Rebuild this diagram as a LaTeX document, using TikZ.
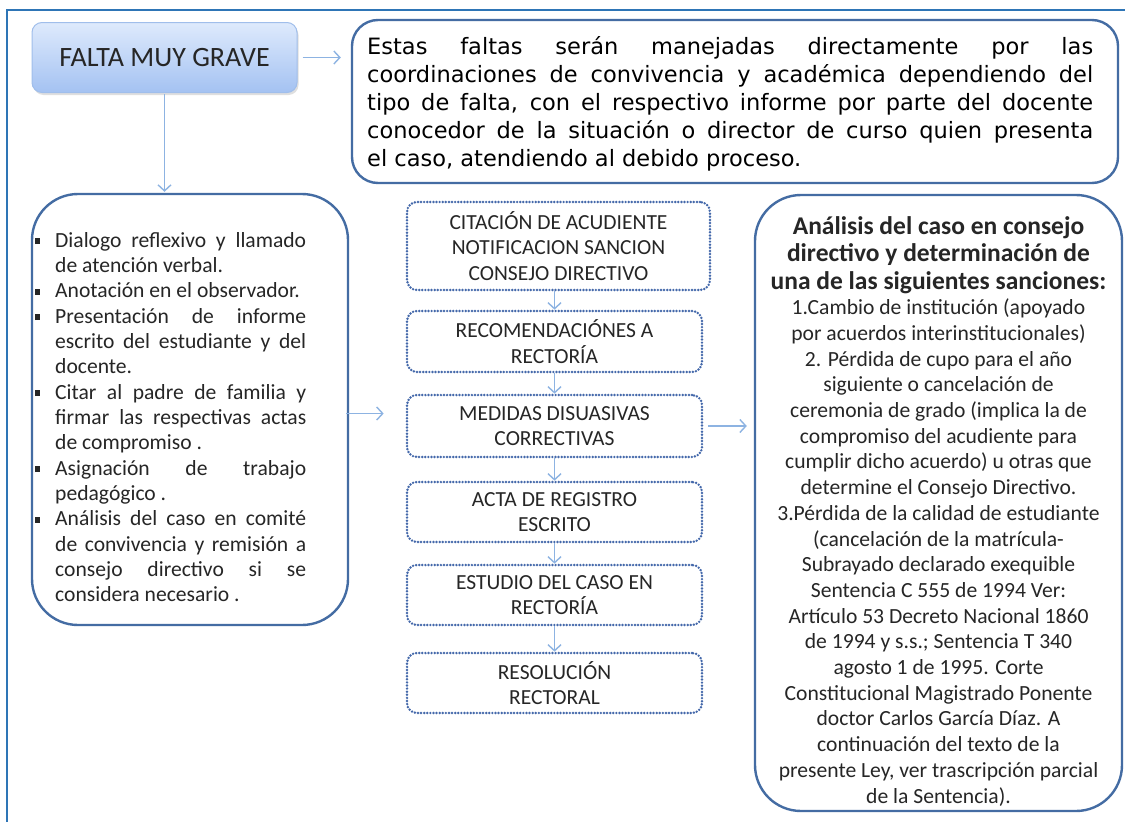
\documentclass[tikz,border=0pt]{standalone}
\usepackage{fontspec}
\setmainfont{Carlito}
\newfontfamily\comic{DejaVu Sans}
\usetikzlibrary{shadows,arrows.meta,calc}
\definecolor{frameblue}{RGB}{46,117,182}
\definecolor{boxblue}{RGB}{68,108,163}
\definecolor{dotblue}{RGB}{68,104,170}
\definecolor{arrblue}{RGB}{141,179,226}
\definecolor{txt}{RGB}{38,38,38}
\definecolor{fmgtop}{RGB}{222,234,252}
\definecolor{fmgbot}{RGB}{164,194,242}
\definecolor{fmgline}{RGB}{160,190,235}
\hbadness=10000 \vbadness=10000 \hfuzz=8pt
\newcommand\litem[1]{\par\noindent\hangindent=20pt\hangafter=1\makebox[20pt][l]{\raisebox{3pt}{\rule{5pt}{6pt}}}#1}
\begin{document}
\begin{tikzpicture}[x=1pt,y=-1pt,
  bigbox/.style={draw=boxblue, line width=2.4pt, fill=white, inner sep=0pt},
  stepbox/.style={draw=dotblue, line width=2.7pt, line cap=round, dash pattern=on 0pt off 3.1pt,
     rounded corners=10pt, align=center, inner sep=0pt, text=txt,
     font=\fontsize{21.5}{25.5}\selectfont},
  arr/.style={draw=arrblue, line width=1.4pt, -{Straight Barb[length=6pt,width=13pt]}},
  textnode/.style={inner sep=0pt, text=txt}]
\useasboundingbox (0,0) rectangle (1125,822);
\fill[white] (0,0) rectangle (1125,822);
% outer frame
\coordinate (fbl) at (7,822);
\coordinate (ftl) at (7,10);
\coordinate (ftr) at (1125,10);
\draw[frameblue, line width=2.6pt] (fbl) -- (ftl) -- (ftr);

% FALTA MUY GRAVE
\node[draw=fmgline, line width=1pt, rounded corners=10pt, top color=fmgtop, bottom color=fmgbot,
  minimum width=265pt, minimum height=70pt, inner sep=0pt, text=txt,
  drop shadow={shadow xshift=1.5pt, shadow yshift=-2.5pt, opacity=0.25},
  font=\fontsize{28}{32}\selectfont] (fmg) at (164.5,57.5) {FALTA MUY GRAVE};

% top description box
\node[bigbox, rounded corners=26pt, minimum width=766pt, minimum height=163pt] (top) at (735,101.5) {};
\node[textnode, anchor=base west, text=black] (toptext) at (367,54)
 {\parbox[t]{726pt}{\comic\fontsize{22.5}{28.2}\selectfont
 Estas faltas serán manejadas directamente por las\linebreak
 coordinaciones de convivencia y académica dependiendo del\linebreak
 tipo de falta, con el respectivo informe por parte del docente\linebreak
 conocedor de la situación o director de curso quien presenta\linebreak
 el caso, atendiendo al debido proceso.}};

% left box
\node[bigbox, rounded corners=46pt, minimum width=316pt, minimum height=431pt] (left) at (190,409.5) {};
\node[textnode, anchor=base west] (lefttext) at (35,247)
 {\parbox[t]{271pt}{\fontsize{21.6}{25.35}\selectfont
 \litem{Dialogo reflexivo y llamado\linebreak de atención verbal.}
 \litem{Anotación en el observador.}
 \litem{Presentación de informe\linebreak escrito del estudiante y del\linebreak docente.}
 \litem{Citar al padre de familia y\linebreak firmar las respectivas actas\linebreak de compromiso .}
 \litem{Asignación de trabajo\linebreak pedagógico .}
 \litem{Análisis del caso en comité\linebreak de convivencia y remisión a\linebreak consejo directivo si se\linebreak considera necesario .}\par}};

% middle steps
\node[stepbox, minimum width=303pt, minimum height=88pt] (b1) at (558.5,246)
 {CITACIÓN DE ACUDIENTE\\NOTIFICACION SANCION\\CONSEJO DIRECTIVO};
\node[stepbox, minimum width=295pt, minimum height=61pt] (b2) at (554.5,341.5)
 {RECOMENDACIÓNES A\\RECTORÍA};
\node[stepbox, minimum width=295pt, minimum height=62pt] (b3) at (554.5,426)
 {MEDIDAS DISUASIVAS\\CORRECTIVAS};
\node[stepbox, minimum width=295pt, minimum height=60pt] (b4) at (554.5,512)
 {ACTA DE REGISTRO\\ESCRITO};
\node[stepbox, minimum width=295pt, minimum height=60pt] (b5) at (554.5,595)
 {ESTUDIO DEL CASO EN\\RECTORÍA};
\node[stepbox, minimum width=295pt, minimum height=60pt] (b6) at (554.5,683)
 {RESOLUCIÓN\\RECTORAL};

% right box
\node[bigbox, rounded corners=46pt, minimum width=367pt, minimum height=616pt] (right) at (938.5,503) {};
\node[textnode, anchor=base] (righttext) at (938.5,234)
 {\parbox[t]{362pt}{\centering
 \fontsize{25.5}{27.5}\selectfont\bfseries
 Análisis del caso en consejo\\ directivo y determinación de\\ una de las siguientes sanciones:\par
 \fontsize{21.6}{25.7}\selectfont\mdseries
 1.Cambio de institución (apoyado\\ por acuerdos interinstitucionales)\\
 2. Pérdida de cupo para el año\\ siguiente o cancelación de\\
 ceremonia de grado (implica la de\\ compromiso del acudiente para\\
 cumplir dicho acuerdo) u otras que\\ determine el Consejo Directivo.\\
 3.Pérdida de la calidad de estudiante\\ (cancelación de la matrícula-\\
 Subrayado declarado exequible\\ Sentencia C 555 de 1994 Ver:\\
 Artículo 53 Decreto Nacional 1860\\ de 1994 y s.s.; Sentencia T 340\\
 agosto 1 de 1995. Corte\\ Constitucional Magistrado Ponente\\
 doctor Carlos García Díaz. A\\ continuación del texto de la\\
 presente Ley, ver trascripción parcial\\ de la Sentencia).\par}};

% connectors
\draw[arr, shorten <=5pt, shorten >=10pt] (fmg.east) -- (fmg.east -| top.west);
\draw[arr, shorten <=1pt, shorten >=1pt] (fmg.south) -- (fmg.south |- left.north);
\draw[arr, shorten <=-3pt, shorten >=22pt] ([yshift=-4pt]left.east) -- ([yshift=-4pt]left.east -| b3.west);
\draw[arr, shorten <=5pt, shorten >=7pt] (b3.east) -- (b3.east -| right.west);
\draw[arr] (b1.south -| b2.north) -- (b2.north);
\draw[arr] (b2.south) -- (b3.north);
\draw[arr] (b3.south) -- (b4.north);
\draw[arr] (b4.south) -- (b5.north);
\draw[arr] (b5.south) -- (b6.north);
\end{tikzpicture}
\end{document}
